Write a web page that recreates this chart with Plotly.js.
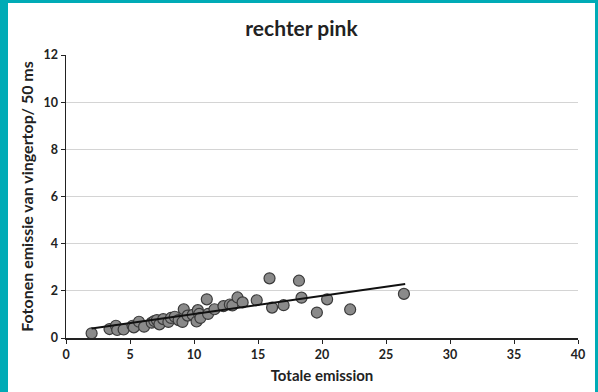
<!DOCTYPE html>
<html>
<head>
<meta charset="utf-8">
<script src="https://cdn.plot.ly/plotly-3.0.1.min.js"></script>
<style>
html,body{margin:0;padding:0;background:#00abb6;width:598px;height:392px;overflow:hidden;}
#chart{position:absolute;left:8px;top:3px;width:587px;height:389px;background:#fff;}
</style>
</head>
<body>
<div id="chart"></div>
<script>
const totalEmission = [2.0,3.4,3.9,4.0,4.5,5.2,5.3,5.7,6.1,6.7,6.9,7.1,7.3,7.6,8.0,8.2,8.5,8.8,9.1,9.2,9.5,9.9,10.2,10.3,10.4,10.5,11.0,11.1,11.6,12.3,12.8,13.0,13.4,13.8,14.9,15.9,16.1,17.0,18.2,18.4,19.6,20.4,22.2,26.4];
const fingertipEmission = [0.2,0.38,0.52,0.34,0.36,0.52,0.45,0.69,0.48,0.65,0.72,0.76,0.58,0.80,0.68,0.85,0.90,0.76,0.68,1.22,0.95,0.98,0.70,1.18,1.02,0.85,1.64,1.02,1.22,1.35,1.42,1.38,1.72,1.51,1.60,2.53,1.29,1.39,2.43,1.71,1.08,1.64,1.21,1.87];
const trendX = [2.0, 26.5];
const trendY = [0.40, 2.29];
const xTicks = [0,5,10,15,20,25,30,35,40];
const yTicks = [0,2,4,6,8,10,12];

const fontFam = 'Lato, "Open Sans", "Liberation Sans", sans-serif';
const data = [
  {x: totalEmission, y: fingertipEmission, type:'scatter', mode:'markers',
   marker:{size:11, color:'#8a8a8a', line:{color:'#3a3a3a', width:1.2}}, hoverinfo:'x+y'},
  {x: trendX, y: trendY, type:'scatter', mode:'lines', line:{color:'#111', width:2}}
];
const layout = {
  width:587, height:389,
  margin:{l:58, r:17, t:52, b:54},
  paper_bgcolor:'#fff', plot_bgcolor:'#fff',
  showlegend:false,
  title:{text:'<b>rechter pink</b>', x:0.5, xref:'container', y:0.935, yref:'container', yanchor:'middle',
         font:{family:fontFam, size:21, color:'#222'}},
  xaxis:{range:[0,40], tickvals:xTicks, ticktext:xTicks.map(String), showgrid:false, zeroline:false,
         showline:true, linecolor:'#222', linewidth:1.5, ticks:'outside', ticklen:4, tickcolor:'#222',
         tickfont:{family:fontFam, size:12.5, color:'#222', weight:'bold'},
         title:{text:'<b>Totale emission</b>', font:{family:fontFam, size:15, color:'#222'}, standoff:10}},
  yaxis:{range:[0,12], tickvals:yTicks, ticktext:yTicks.map(String), showgrid:true, gridcolor:'#d4d4d4', gridwidth:1,
         zeroline:false, showline:true, linecolor:'#222', linewidth:1.5, ticks:'outside', ticklen:4, tickcolor:'#222',
         tickfont:{family:fontFam, size:12.5, color:'#222', weight:'bold'},
         title:{text:'<b>Fotonen emissie van vingertop/ 50 ms</b>', font:{family:fontFam, size:16, color:'#222'}, standoff:6}}
};
Plotly.newPlot('chart', data, layout, {displayModeBar:false, staticPlot:true});
</script>
</body>
</html>
